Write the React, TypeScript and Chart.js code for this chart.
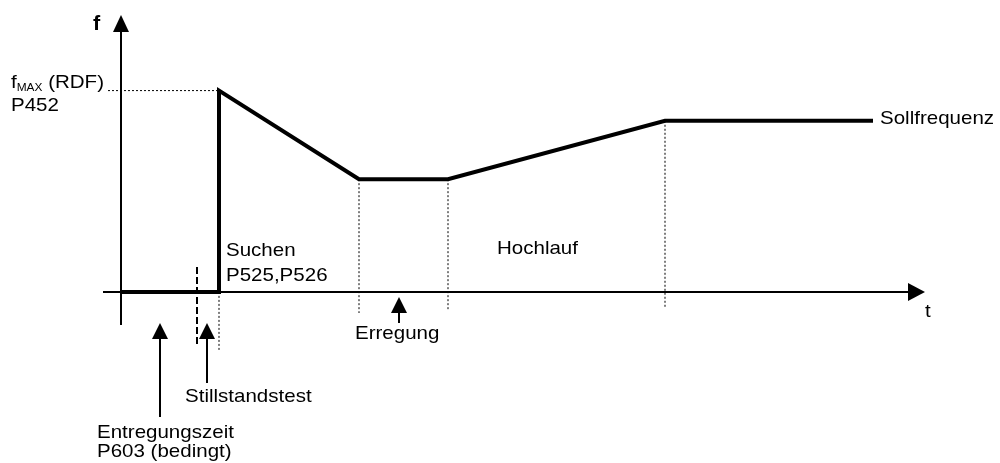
import React, { useEffect, useRef } from "react";
import { Chart, registerables } from "chart.js";
Chart.register(...registerables);

// Frequency profile (time units, frequency in % of f_MAX)
const curveT = [0, 9.8, 9.8, 23.8, 32.7, 54.4, 75.2];
const curveF = [0, 0, 100, 56, 56, 85, 85];

// Dotted guide lines at phase boundaries
const guideT = [9.8, 23.8, 32.7, 54.4];
const guideTop = [0, 56, 56, 85];
const guideBottom = [-28.9, -10.5, -9.5, -8];

// Dotted f_MAX reference line
const fmaxGuideT = [-1.3, 9.8];
const fmaxValue = 100;

// Dashed marker (Stillstandstest start)
const testT = 7.6;
const testRange = [12.4, -25.9];

// Annotation arrows
const arrowT = [3.9, 8.6, 27.8];
const arrowTip = [-15.4, -15.4, -2.5];
const arrowTail = [-62.2, -45.3, -15.4];

// Axes extents
const xAxisRange = [-1.8, 80.4];
const yAxisRange = [-16.5, 137.5];

// Text labels
const labelTexts = [
  "Suchen",
  "P525,P526",
  "Hochlauf",
  "Erregung",
  "Stillstandstest",
  "Entregungszeit",
  "P603 (bedingt)",
  "Sollfrequenz",
  "P452",
  "t",
];
const labelT = [10.5, 10.5, 37.6, 23.4, 6.4, -2.4, -2.4, 75.9, -11.0, 80.4];
const labelF = [17.8, 5.4, 18.8, -23.4, -54.7, -72.6, -82, 83.4, 89.9, -12.5];

const fAxisLabel = "f";
const fAxisLabelPos = [-2.8, 130.1];
const fmaxLabel = ["f", "MAX", " (RDF)"];
const fmaxLabelPos = [-11.0, 101.3];

const FONT = '"Liberation Sans", Arial, sans-serif';
const SX = 1.08;

const decorPlugin = {
  id: "decor",
  afterDatasetsDraw(chart: any) {
    const ctx = chart.ctx as CanvasRenderingContext2D;
    const xs = chart.scales.x;
    const ys = chart.scales.y;
    const px = (v: number) => xs.getPixelForValue(v);
    const py = (v: number) => ys.getPixelForValue(v);
    ctx.save();
    ctx.fillStyle = "#000";
    ctx.strokeStyle = "#000";

    // y axis arrow head
    {
      const x = px(0);
      const tip = py(yAxisRange[1]);
      ctx.beginPath();
      ctx.moveTo(x, tip);
      ctx.lineTo(x - 8, tip + 17);
      ctx.lineTo(x + 8, tip + 17);
      ctx.closePath();
      ctx.fill();
    }
    // x axis arrow head
    {
      const y = py(0);
      const tip = px(xAxisRange[1]);
      ctx.beginPath();
      ctx.moveTo(tip, y);
      ctx.lineTo(tip - 17, y - 9);
      ctx.lineTo(tip - 17, y + 9);
      ctx.closePath();
      ctx.fill();
    }
    // annotation arrows
    for (let i = 0; i < arrowT.length; i++) {
      const x = px(arrowT[i]);
      const tip = py(arrowTip[i]);
      const tail = py(arrowTail[i]);
      ctx.lineWidth = 2;
      ctx.beginPath();
      ctx.moveTo(x, tip + 10);
      ctx.lineTo(x, tail);
      ctx.stroke();
      ctx.beginPath();
      ctx.moveTo(x, tip);
      ctx.lineTo(x - 8, tip + 16);
      ctx.lineTo(x + 8, tip + 16);
      ctx.closePath();
      ctx.fill();
    }

    const drawText = (text: string, x: number, y: number, font: string) => {
      ctx.save();
      ctx.font = font;
      ctx.textBaseline = "alphabetic";
      ctx.textAlign = "left";
      ctx.translate(x, y);
      ctx.scale(SX, 1);
      ctx.fillText(text, 0, 0);
      const w = ctx.measureText(text).width * SX;
      ctx.restore();
      return w;
    };

    for (let i = 0; i < labelTexts.length; i++) {
      drawText(labelTexts[i], px(labelT[i]), py(labelF[i]), `19px ${FONT}`);
    }
    drawText(fAxisLabel, px(fAxisLabelPos[0]), py(fAxisLabelPos[1]), `bold 20px ${FONT}`);

    // f_MAX (RDF) with subscript
    let cx = px(fmaxLabelPos[0]);
    const by = py(fmaxLabelPos[1]);
    cx += drawText(fmaxLabel[0], cx, by, `19px ${FONT}`);
    cx += drawText(fmaxLabel[1], cx, by + 3, `11px ${FONT}`);
    drawText(fmaxLabel[2], cx, by, `19px ${FONT}`);

    ctx.restore();
  },
};

export default function App() {
  const ref = useRef<HTMLCanvasElement | null>(null);

  useEffect(() => {
    if (!ref.current) return;
    const line = (pts: { x: number; y: number }[], width: number, dash: number[] = []) => ({
      data: pts,
      showLine: true,
      borderColor: "#000",
      backgroundColor: "#000",
      borderWidth: width,
      borderDash: dash,
      pointRadius: 0,
      pointHoverRadius: 0,
      fill: false,
      tension: 0,
      borderJoinStyle: "miter" as const,
      borderCapStyle: "butt" as const,
    });

    const datasets: any[] = [];
    // axes
    datasets.push(line([{ x: xAxisRange[0], y: 0 }, { x: xAxisRange[1] - 1, y: 0 }], 2));
    datasets.push(line([{ x: 0, y: yAxisRange[0] }, { x: 0, y: yAxisRange[1] - 5 }], 2));
    // dotted guides
    guideT.forEach((t, i) => {
      datasets.push(line([{ x: t, y: guideTop[i] }, { x: t, y: guideBottom[i] }], 1, [2, 2]));
    });
    datasets.push(
      line([{ x: fmaxGuideT[0], y: fmaxValue }, { x: fmaxGuideT[1], y: fmaxValue }], 1, [2, 2])
    );
    // dashed Stillstandstest marker
    datasets.push(line([{ x: testT, y: testRange[0] }, { x: testT, y: testRange[1] }], 2, [7, 3]));
    // frequency profile
    datasets.push(line(curveT.map((t, i) => ({ x: t, y: curveF[i] })), 4));

    const chart = new Chart(ref.current, {
      type: "scatter",
      data: { datasets },
      options: {
        animation: false,
        responsive: false,
        devicePixelRatio: 1,
        layout: { padding: 0 },
        events: [],
        plugins: { legend: { display: false }, tooltip: { enabled: false } },
        scales: {
          x: { type: "linear", min: -12.1, max: 87.9, display: false },
          y: { type: "linear", min: -85, max: 145, display: false },
        },
      },
      plugins: [decorPlugin],
    });
    return () => chart.destroy();
  }, []);

  return (
    <div style={{ position: "absolute", left: 0, top: 0, width: 1000, height: 463, background: "#fff" }}>
      <canvas ref={ref} width={1000} height={463} style={{ display: "block" }} />
    </div>
  );
}
